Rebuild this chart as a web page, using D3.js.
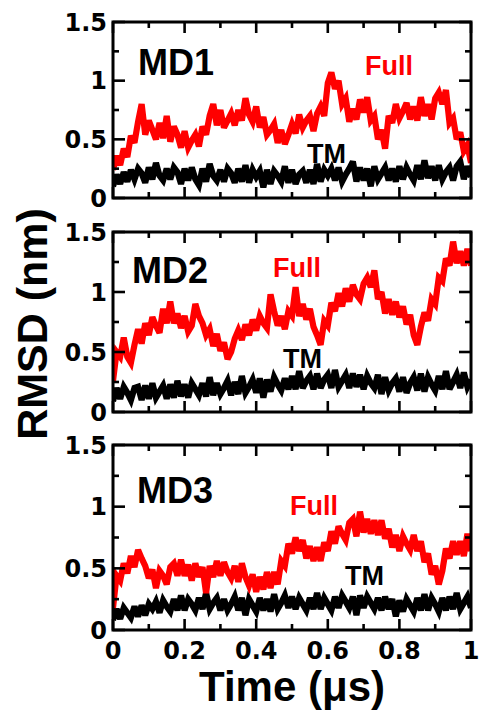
<!DOCTYPE html>
<html><head><meta charset="utf-8">
<script src="https://cdn.jsdelivr.net/npm/d3@7"></script>
<style>body{margin:0;background:#fff}svg{display:block}</style>
</head><body>
<svg id="c" width="482" height="713"></svg>
<script>
// ---------- data ----------
const runs = ["MD1", "MD2", "MD3"];
const seriesNames = ["Full", "TM"];
const xTicks = [0, 0.2, 0.4, 0.6, 0.8, 1];
const xTickLabels = ["0", "0.2", "0.4", "0.6", "0.8", "1"];
const xMinor = [0.1, 0.3, 0.5, 0.7, 0.9];
const yTicks = [0, 0.5, 1, 1.5];
const yTickLabels = ["0", "0.5", "1", "1.5"];
const yMinor = [0.25, 0.75, 1.25];
const xLabel = "Time (\u03bcs)";
const yLabel = "RMSD (nm)";

// time in microseconds, sampled every 0.01
const time = d3.range(101).map(i => i / 100);

const full1 = [0.24,0.36,0.28,0.42,0.35,0.53,0.47,0.65,0.80,0.54,
0.66,0.58,0.50,0.64,0.51,0.70,0.48,0.61,0.54,0.43,
0.57,0.43,0.49,0.54,0.44,0.61,0.54,0.70,0.80,0.62,
0.75,0.60,0.66,0.72,0.62,0.75,0.66,0.85,0.71,0.65,
0.78,0.60,0.69,0.54,0.58,0.63,0.47,0.58,0.46,0.54,
0.63,0.55,0.71,0.60,0.66,0.70,0.57,0.72,0.78,0.70,
0.98,1.07,0.93,1.00,0.80,0.85,0.65,0.76,0.67,0.84,
0.73,0.86,0.66,0.70,0.50,0.58,0.42,0.70,0.64,0.80,
0.68,0.74,0.81,0.67,0.78,0.66,0.86,0.70,0.80,0.67,
0.85,0.90,0.80,0.92,0.64,0.68,0.50,0.56,0.40,0.45,0.30];
const tm1 = [0.10,0.20,0.12,0.22,0.14,0.24,0.16,0.25,0.21,0.13,
0.26,0.16,0.30,0.19,0.15,0.25,0.16,0.26,0.22,0.12,
0.25,0.15,0.26,0.16,0.11,0.25,0.14,0.29,0.19,0.15,
0.24,0.14,0.25,0.21,0.13,0.25,0.14,0.28,0.13,0.24,
0.18,0.23,0.09,0.24,0.12,0.23,0.19,0.14,0.27,0.13,
0.24,0.12,0.20,0.23,0.13,0.24,0.12,0.29,0.14,0.24,
0.19,0.25,0.15,0.26,0.14,0.20,0.25,0.31,0.14,0.26,
0.15,0.25,0.10,0.27,0.16,0.21,0.26,0.15,0.25,0.14,
0.27,0.16,0.26,0.20,0.15,0.28,0.16,0.32,0.17,0.27,
0.15,0.28,0.16,0.22,0.26,0.15,0.27,0.31,0.16,0.27,0.18];

const full2 = [0.26,0.50,0.46,0.62,0.46,0.41,0.56,0.69,0.57,0.74,
0.64,0.79,0.72,0.66,0.86,0.74,0.92,0.74,0.82,0.70,
0.80,0.67,0.72,0.90,0.80,0.74,0.64,0.69,0.55,0.65,
0.51,0.58,0.44,0.50,0.61,0.68,0.60,0.73,0.64,0.77,
0.68,0.80,0.74,0.70,0.98,0.84,0.72,0.80,0.69,0.84,
0.80,1.04,0.80,0.90,0.77,0.86,0.71,0.64,0.56,0.76,
0.72,0.91,0.84,0.99,0.88,1.03,0.92,1.06,0.98,0.94,
1.07,1.12,1.04,1.18,0.94,1.00,0.82,0.94,0.81,0.92,
0.79,0.88,0.73,0.81,0.64,0.56,0.71,0.83,0.76,0.94,
0.90,1.12,1.09,1.28,1.22,1.42,1.24,1.34,1.22,1.36,1.22];
const tm2 = [0.09,0.20,0.11,0.21,0.16,0.10,0.20,0.21,0.10,0.22,
0.11,0.24,0.12,0.17,0.22,0.11,0.23,0.12,0.26,0.13,
0.23,0.12,0.24,0.19,0.14,0.24,0.13,0.29,0.14,0.24,
0.15,0.20,0.26,0.14,0.25,0.15,0.30,0.16,0.21,0.27,
0.16,0.28,0.12,0.27,0.17,0.29,0.23,0.18,0.28,0.19,
0.30,0.19,0.34,0.20,0.26,0.30,0.19,0.32,0.20,0.27,
0.31,0.20,0.35,0.21,0.26,0.31,0.20,0.32,0.21,0.31,
0.19,0.30,0.24,0.20,0.31,0.15,0.29,0.18,0.24,0.28,
0.17,0.29,0.16,0.24,0.29,0.18,0.32,0.17,0.29,0.23,
0.18,0.30,0.19,0.34,0.19,0.25,0.31,0.20,0.33,0.21,0.27];

const full3 = [0.18,0.44,0.40,0.54,0.46,0.60,0.51,0.65,0.58,0.52,
0.42,0.49,0.34,0.48,0.44,0.37,0.51,0.54,0.44,0.57,
0.44,0.53,0.40,0.54,0.43,0.51,0.30,0.52,0.43,0.56,
0.44,0.55,0.47,0.42,0.52,0.39,0.54,0.43,0.36,0.45,
0.31,0.43,0.33,0.47,0.34,0.47,0.37,0.56,0.52,0.70,
0.62,0.75,0.64,0.73,0.58,0.68,0.56,0.67,0.56,0.71,
0.64,0.80,0.70,0.84,0.78,0.73,0.87,0.90,0.76,0.96,
0.79,0.90,0.78,0.89,0.77,0.89,0.74,0.82,0.67,0.77,
0.64,0.76,0.70,0.65,0.77,0.64,0.72,0.55,0.62,0.45,
0.52,0.37,0.48,0.66,0.58,0.72,0.61,0.72,0.60,0.78,0.64];
const tm3 = [0.08,0.17,0.09,0.18,0.14,0.10,0.19,0.11,0.20,0.12,
0.21,0.17,0.23,0.14,0.24,0.19,0.15,0.25,0.16,0.28,
0.16,0.25,0.21,0.16,0.26,0.17,0.30,0.17,0.22,0.26,
0.16,0.25,0.16,0.21,0.27,0.16,0.26,0.12,0.25,0.20,
0.15,0.26,0.16,0.25,0.15,0.29,0.17,0.22,0.28,0.18,
0.27,0.17,0.26,0.21,0.16,0.26,0.17,0.30,0.17,0.26,
0.21,0.16,0.27,0.18,0.28,0.23,0.18,0.27,0.12,0.28,
0.18,0.27,0.22,0.17,0.26,0.16,0.27,0.17,0.25,0.11,
0.24,0.15,0.25,0.20,0.15,0.26,0.16,0.29,0.16,0.26,
0.21,0.15,0.26,0.16,0.27,0.17,0.30,0.17,0.22,0.27,0.18];

const fullSeries = [full1, full2, full3];
const tmSeries = [tm1, tm2, tm3];

// ---------- layout ----------
const svg = d3.select("#c");
const left = 113, right = 471;
const panels = [
  {top: 22, bottom: 198, md: [138, 75], full: [365, 75], tm: [307, 163]},
  {top: 232, bottom: 412, md: [132, 283], full: [273, 277], tm: [283, 368]},
  {top: 445, bottom: 630, md: [137, 503], full: [290, 515], tm: [345, 585]}
];
const x = d3.scaleLinear().domain([0, 1]).range([left, right]);
const tickFont = "'DejaVu Sans', sans-serif";
const labFont = "'Liberation Sans', Arial, Helvetica, sans-serif";

const defs = svg.append("defs");
defs.append("filter").attr("id", "soft").attr("x", "-5%").attr("y", "-20%").attr("width", "110%").attr("height", "140%")
  .append("feGaussianBlur").attr("stdDeviation", 0.6);

panels.forEach((p, i) => {
  const y = d3.scaleLinear().domain([0, 1.5]).range([p.bottom, p.top]);
  const g = svg.append("g");
  const clipId = "clip" + i;
  defs.append("clipPath").attr("id", clipId).append("rect")
    .attr("x", left).attr("y", p.top).attr("width", right - left).attr("height", p.bottom - p.top);

  const line = d3.line().x((d, k) => x(time[k])).y(d => y(d));
  const plot = g.append("g").attr("clip-path", `url(#${clipId})`);
  const inner = plot.append("g").attr("filter", "url(#soft)");
  inner.append("path").datum(tmSeries[i]).attr("d", line)
    .attr("fill", "none").attr("stroke", "#000").attr("stroke-width", 6.2).attr("stroke-linejoin", "miter").attr("stroke-miterlimit", 3);
  inner.append("path").datum(fullSeries[i]).attr("d", line)
    .attr("fill", "none").attr("stroke", "#ff0000").attr("stroke-width", 6.2).attr("stroke-linejoin", "miter").attr("stroke-miterlimit", 3);

  // ticks (inward, mirrored)
  const tk = g.append("g").attr("stroke", "#000").attr("stroke-width", 2.6);
  const xt = xTicks.map(v => ({v, len: 11})).concat(xMinor.map(v => ({v, len: 6})));
  xt.forEach(t => {
    tk.append("line").attr("x1", x(t.v)).attr("x2", x(t.v)).attr("y1", p.bottom).attr("y2", p.bottom - t.len);
    tk.append("line").attr("x1", x(t.v)).attr("x2", x(t.v)).attr("y1", p.top).attr("y2", p.top + t.len);
  });
  const yt = yTicks.map(v => ({v, len: 12})).concat(yMinor.map(v => ({v, len: 6})));
  yt.forEach(t => {
    tk.append("line").attr("y1", y(t.v)).attr("y2", y(t.v)).attr("x1", left).attr("x2", left + t.len);
    tk.append("line").attr("y1", y(t.v)).attr("y2", y(t.v)).attr("x1", right).attr("x2", right - t.len);
  });
  g.append("rect").attr("x", left).attr("y", p.top).attr("width", right - left).attr("height", p.bottom - p.top)
    .attr("fill", "none").attr("stroke", "#000").attr("stroke-width", 3);

  // y tick labels
  yTicks.forEach((v, k) => {
    g.append("text").attr("x", left - 6).attr("y", y(v)).attr("dy", "0.36em")
      .attr("text-anchor", "end").attr("font-family", tickFont).attr("font-weight", "bold")
      .attr("font-size", 24).text(yTickLabels[k]);
  });

  // annotations
  g.append("text").attr("x", p.md[0]).attr("y", p.md[1]).attr("font-family", labFont)
    .attr("font-weight", "bold").attr("font-size", 36).attr("fill", "#000").text(runs[i]);
  g.append("text").attr("x", p.full[0]).attr("y", p.full[1]).attr("font-family", labFont)
    .attr("font-weight", "bold").attr("font-size", 27).attr("fill", "#ff0000").text(seriesNames[0]);
  g.append("text").attr("x", p.tm[0]).attr("y", p.tm[1]).attr("font-family", labFont)
    .attr("font-weight", "bold").attr("font-size", 27).attr("fill", "#000").text(seriesNames[1]);

  if (i === panels.length - 1) {
    xTicks.forEach((v, k) => {
      g.append("text").attr("x", x(v)).attr("y", 659).attr("text-anchor", "middle")
        .attr("font-family", tickFont).attr("font-weight", "bold").attr("font-size", 24).text(xTickLabels[k]);
    });
  }
});

svg.append("text").attr("x", (left + right) / 2).attr("y", 701).attr("text-anchor", "middle")
  .attr("font-family", labFont).attr("font-weight", "bold").attr("font-size", 42).text(xLabel);
svg.append("text").attr("transform", "translate(47,324) rotate(-90)").attr("text-anchor", "middle")
  .attr("font-family", labFont).attr("font-weight", "bold").attr("font-size", 43).text(yLabel);
</script>
</body></html>
